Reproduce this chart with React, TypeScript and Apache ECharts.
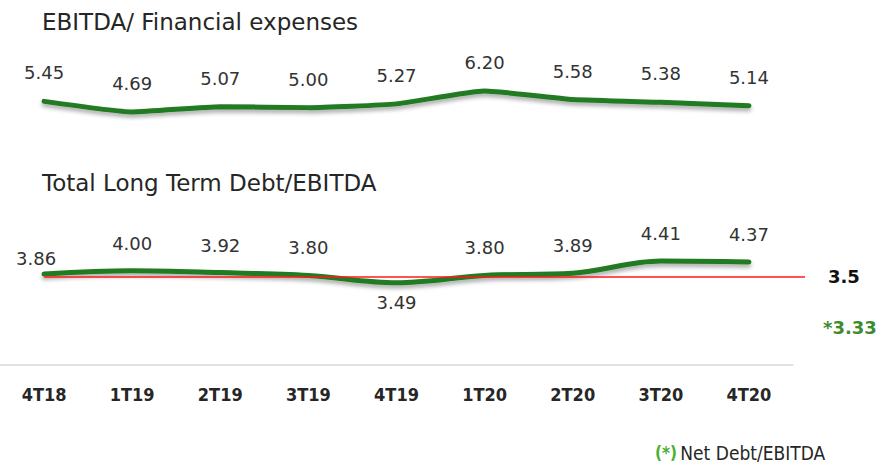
import React, { useEffect, useRef } from "react";
import * as echarts from "echarts";

const categories = ["4T18", "1T19", "2T19", "3T19", "4T19", "1T20", "2T20", "3T20", "4T20"];
const ebitdaFinExpenses = [5.45, 4.69, 5.07, 5.0, 5.27, 6.2, 5.58, 5.38, 5.14];
const debtEbitda = [3.86, 4.0, 3.92, 3.8, 3.49, 3.8, 3.89, 4.41, 4.37];
const covenantLimit = [3.5];
const netDebtEbitda = [3.33];
const chartTitles = ["EBITDA/ Financial expenses", "Total Long Term Debt/EBITDA"];
const footnote = ["(*)", "Net Debt/EBITDA"];

const GREEN = "#217a21";
const LABEL_FONT = "'DejaVu Sans', sans-serif";
const NARROW_FONT = "'Liberation Sans Narrow', 'DejaVu Sans Condensed', sans-serif";

export default function App() {
  const ref = useRef<HTMLDivElement>(null);

  useEffect(() => {
    if (!ref.current) return;
    const chart = echarts.init(ref.current, undefined, { renderer: "svg" });

    const shadow = {
      shadowColor: "rgba(0,0,0,0.35)",
      shadowBlur: 4,
      shadowOffsetY: 3,
    };

    const hiddenSymbol = {
      symbol: "circle",
      symbolSize: 1,
      showSymbol: true,
      itemStyle: { color: "rgba(0,0,0,0)", borderWidth: 0 },
    };

    const option: any = {
      animation: false,
      backgroundColor: "#ffffff",
      title: [
        {
          text: chartTitles[0],
          left: 42,
          top: 10,
          padding: 0,
          textStyle: { fontFamily: LABEL_FONT, fontSize: 23, fontWeight: "normal", color: "#262626" },
        },
        {
          text: chartTitles[1],
          left: 42,
          top: 171,
          padding: 0,
          textStyle: { fontFamily: LABEL_FONT, fontSize: 23, fontWeight: "normal", color: "#262626" },
        },
      ],
      grid: [
        { left: -3, width: 796, top: 66, height: 111 },
        { left: -3, width: 796, top: 200, height: 165 },
      ],
      xAxis: [
        { type: "category", data: categories, gridIndex: 0, show: false },
        {
          type: "category",
          data: categories,
          gridIndex: 1,
          axisLine: { lineStyle: { color: "#d9d9d9", width: 1.5 } },
          axisTick: { show: false },
          axisLabel: {
            margin: 20,
            fontFamily: NARROW_FONT,
            fontWeight: "bold",
            fontSize: 18,
            color: "#262626",
          },
        },
      ],
      yAxis: [
        { type: "value", gridIndex: 0, min: 0, max: 8, show: false },
        { type: "value", gridIndex: 1, min: 0, max: 7, show: false },
        { type: "value", gridIndex: 1, min: 0, max: 6.56, show: false },
      ],
      graphic: [
        {
          type: "text",
          left: 823,
          top: 318,
          style: {
            text: "*" + netDebtEbitda[0].toFixed(2),
            fontFamily: LABEL_FONT,
            fontWeight: "bold",
            fontSize: 18,
            fill: "#3d8b2f",
          },
        },
        {
          type: "text",
          left: 655,
          top: 443,
          style: {
            text: "{g|" + footnote[0] + "} {t|" + footnote[1] + "}",
            rich: {
              g: { fontFamily: NARROW_FONT, fontWeight: "bold", fontSize: 17, fill: "#4caf30" },
              t: { fontFamily: NARROW_FONT, fontSize: 19, fill: "#262626" },
            },
          },
        },
      ],
      series: [
        {
          name: chartTitles[0],
          type: "line",
          xAxisIndex: 0,
          yAxisIndex: 0,
          data: ebitdaFinExpenses,
          ...hiddenSymbol,
          smooth: 0.15,
          lineStyle: { color: GREEN, width: 5, cap: "round", ...shadow },
          label: {
            show: true,
            position: "top",
            distance: 19,
            fontFamily: LABEL_FONT,
            fontSize: 18,
            color: "#333333",
            formatter: (p: any) => Number(p.value).toFixed(2),
          },
        },
        {
          name: chartTitles[1],
          type: "line",
          xAxisIndex: 1,
          yAxisIndex: 1,
          z: 3,
          data: debtEbitda.map((v, i) => {
            if (i === 0) return { value: v, label: { distance: 6, offset: [-8, 0] } };
            if (v < covenantLimit[0]) return { value: v, label: { position: "bottom", distance: 10 } };
            return v;
          }),
          ...hiddenSymbol,
          smooth: 0.35,
          lineStyle: { color: GREEN, width: 5, cap: "round", ...shadow },
          label: {
            show: true,
            position: "top",
            distance: 18,
            fontFamily: LABEL_FONT,
            fontSize: 18,
            color: "#333333",
            formatter: (p: any) => Number(p.value).toFixed(2),
          },
        },
        {
          name: "limit",
          type: "line",
          xAxisIndex: 1,
          yAxisIndex: 2,
          z: 4,
          data: [],
          markLine: {
            silent: true,
            symbol: ["none", "none"],
            lineStyle: { color: "#ff1a1a", width: 1.5, type: "solid" },
            label: {
              show: true,
              position: "end",
              distance: 23,
              fontFamily: LABEL_FONT,
              fontWeight: "bold",
              fontSize: 18,
              color: "#111111",
              formatter: () => String(covenantLimit[0]),
            },
            data: [[{ xAxis: 0, yAxis: covenantLimit[0] }, { x: 805, yAxis: covenantLimit[0] }]],
          },
        },
      ],
    };

    chart.setOption(option);
    return () => chart.dispose();
  }, []);

  return (
    <div
      ref={ref}
      style={{ position: "fixed", left: 0, top: 0, width: 885, height: 470 }}
    />
  );
}
